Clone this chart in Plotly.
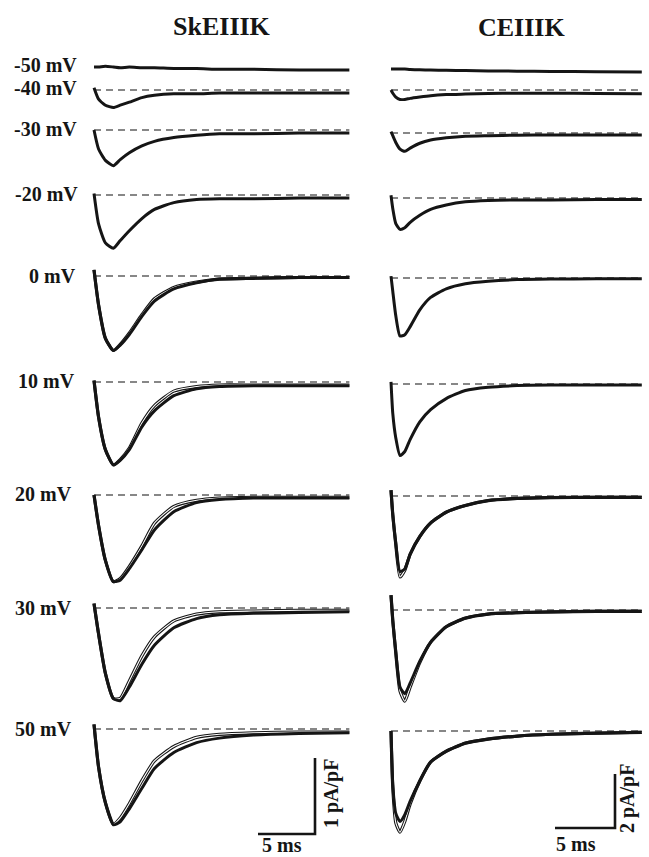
import plotly.graph_objects as go

# ---------------- data ----------------
ROW_LABELS = ["-50 mV", "-40 mV", "-30 mV", "-20 mV", "0 mV", "10 mV", "20 mV", "30 mV", "50 mV"]
COL_TITLES = ["SkEIIIK", "CEIIIK"]

# time samples (ms after the step onset)
T_SKE = [0, 0.4, 1.0, 1.7, 2.3, 3.1, 4.2, 5.3, 7.0, 9.0, 11.0, 14.0, 18.0, 22.4]
T_CE = [0, 0.15, 0.4, 0.75, 1.15, 1.6, 2.4, 3.3, 4.6, 6.2, 8.1, 10.5, 13.3, 17.1, 20.9]

# SkEIIIK current density (pA/pF), thick trace
SKE_M50 = [0.0, 0.0, 0.01, 0.0, -0.01, 0.0, -0.01, -0.01, -0.02, -0.02, -0.03, -0.03, -0.04, -0.04]
SKE_M40 = [0.03, -0.12, -0.20, -0.23, -0.20, -0.16, -0.10, -0.07, -0.05, -0.05, -0.04, -0.04, -0.04, -0.04]
SKE_M30 = [0.0, -0.25, -0.40, -0.47, -0.39, -0.30, -0.21, -0.15, -0.10, -0.07, -0.05, -0.05, -0.04, -0.04]
SKE_M20 = [0.02, -0.38, -0.63, -0.70, -0.60, -0.47, -0.31, -0.19, -0.10, -0.06, -0.05, -0.05, -0.04, -0.04]
SKE_P0 = [0.08, -0.38, -0.82, -0.98, -0.91, -0.77, -0.53, -0.33, -0.17, -0.09, -0.04, -0.03, -0.02, -0.02]
SKE_P10 = [0.02, -0.46, -0.89, -1.09, -1.03, -0.89, -0.59, -0.38, -0.18, -0.09, -0.06, -0.05, -0.05, -0.05]
SKE_P20 = [0.0, -0.40, -0.86, -1.14, -1.12, -0.97, -0.72, -0.46, -0.22, -0.10, -0.06, -0.04, -0.04, -0.04]
SKE_P30 = [0.06, -0.34, -0.86, -1.19, -1.22, -1.04, -0.74, -0.49, -0.26, -0.14, -0.09, -0.07, -0.06, -0.05]
SKE_P50 = [0.06, -0.50, -0.97, -1.26, -1.22, -1.05, -0.78, -0.52, -0.31, -0.18, -0.12, -0.08, -0.06, -0.05]

# SkEIIIK second (thin) trace
SKE_P0_B = [0.08, -0.38, -0.82, -0.98, -0.90, -0.75, -0.51, -0.30, -0.15, -0.08, -0.04, -0.03, -0.02, -0.02]
SKE_P10_B = [0.02, -0.46, -0.89, -1.09, -1.02, -0.87, -0.54, -0.31, -0.12, -0.06, -0.04, -0.04, -0.04, -0.04]
SKE_P20_B = [0.0, -0.40, -0.86, -1.14, -1.10, -0.94, -0.67, -0.37, -0.15, -0.07, -0.04, -0.03, -0.03, -0.03]
SKE_P30_B = [0.06, -0.34, -0.86, -1.19, -1.19, -0.96, -0.63, -0.38, -0.17, -0.08, -0.05, -0.04, -0.03, -0.03]
SKE_P50_B = [0.06, -0.50, -0.97, -1.25, -1.17, -0.98, -0.68, -0.42, -0.23, -0.11, -0.07, -0.05, -0.04, -0.04]

# CEIIIK current density (pA/pF), thick trace
CE_M50 = [0.0, 0.0, 0.0, 0.0, 0.0, -0.02, -0.03, -0.04, -0.05, -0.06, -0.07, -0.08, -0.09, -0.10, -0.11]
CE_M40 = [0.0, -0.12, -0.26, -0.35, -0.35, -0.31, -0.26, -0.21, -0.17, -0.15, -0.13, -0.12, -0.12, -0.13, -0.14]
CE_M30 = [0.05, -0.10, -0.35, -0.60, -0.68, -0.56, -0.38, -0.26, -0.18, -0.12, -0.10, -0.08, -0.07, -0.07, -0.07]
CE_M20 = [0.10, -0.40, -0.95, -1.16, -1.10, -0.90, -0.64, -0.42, -0.26, -0.14, -0.09, -0.07, -0.07, -0.06, -0.06]
CE_P0 = [0.07, -0.50, -1.40, -2.15, -2.10, -1.80, -1.18, -0.72, -0.40, -0.21, -0.12, -0.06, -0.04, -0.03, -0.03]
CE_P10 = [0.08, -1.10, -2.00, -2.65, -2.50, -2.05, -1.40, -0.95, -0.54, -0.24, -0.12, -0.06, -0.04, -0.04, -0.04]
CE_P20 = [0.22, -0.70, -1.75, -2.80, -2.70, -2.15, -1.50, -1.00, -0.60, -0.35, -0.17, -0.09, -0.06, -0.05, -0.05]
CE_P30 = [0.55, -0.40, -1.55, -2.85, -3.10, -2.70, -1.90, -1.20, -0.62, -0.30, -0.15, -0.10, -0.07, -0.05, -0.05]
CE_P50 = [0.0, -2.00, -3.05, -3.35, -3.10, -2.60, -1.85, -1.15, -0.75, -0.45, -0.30, -0.19, -0.12, -0.08, -0.05]

# CEIIIK second (thin) trace
CE_P20_B = [0.22, -0.70, -1.80, -3.00, -2.75, -2.15, -1.50, -1.00, -0.60, -0.35, -0.17, -0.09, -0.06, -0.05, -0.05]
CE_P30_B = [0.55, -0.40, -1.60, -3.00, -3.38, -2.85, -1.95, -1.20, -0.62, -0.30, -0.15, -0.10, -0.07, -0.05, -0.05]
CE_P50_B = [0.0, -2.10, -3.40, -3.75, -3.35, -2.70, -1.85, -1.15, -0.75, -0.45, -0.30, -0.19, -0.12, -0.08, -0.05]

SKE_THICK = [SKE_M50, SKE_M40, SKE_M30, SKE_M20, SKE_P0, SKE_P10, SKE_P20, SKE_P30, SKE_P50]
SKE_THIN = [None, None, None, None, SKE_P0_B, SKE_P10_B, SKE_P20_B, SKE_P30_B, SKE_P50_B]
CE_THICK = [CE_M50, CE_M40, CE_M30, CE_M20, CE_P0, CE_P10, CE_P20, CE_P30, CE_P50]
CE_THIN = [None, None, None, None, None, None, CE_P20_B, CE_P30_B, CE_P50_B]

# scale bars
SCALE_T = 5          # ms
SCALE_SKE = 1        # pA/pF
SCALE_CE = 2         # pA/pF

# ---------------- layout geometry (pixels) ----------------
W, H = 649, 857
SKE_PX_MS, SKE_PX_UNIT, SKE_X0 = 11.4, 76.0, 94.0
CE_PX_MS, CE_PX_UNIT, CE_X0 = 12.0, 27.0, 391.0
SPLIT = 360.0
SKE_BASE_PX = [67, 90, 130, 195, 276, 382, 495, 608, 729]
CE_BASE_PX = [69, 90, 133, 198, 278, 384, 496, 610, 731]
LABEL_X = [12, 12, 12, 13, 27, 16, 13, 13, 13]
LABEL_Y = [65, 88, 129, 194, 276, 381, 494, 608, 729]

FONT = "Liberation Serif, Times New Roman, serif"
INK = "#151515"
SMOOTH = 0.55

fig = go.Figure()


def add_column(xa, ya, T, thick, thin, base_px, px_unit):
    for i in range(len(thick)):
        off = -base_px[i] / px_unit
        if i > 0:
            fig.add_trace(go.Scatter(
                x=[T[0], T[-1]], y=[off, off], mode="lines", xaxis=xa, yaxis=ya,
                line=dict(color="#111111", width=1.2, dash="7px,5px"), hoverinfo="skip"))
        if thin[i] is not None:
            ys = [v + off for v in thin[i]]
            fig.add_trace(go.Scatter(
                x=T, y=ys, mode="lines", xaxis=xa, yaxis=ya,
                line=dict(color=INK, width=3.2, shape="spline", smoothing=SMOOTH), hoverinfo="skip"))
            fig.add_trace(go.Scatter(
                x=T, y=ys, mode="lines", xaxis=xa, yaxis=ya,
                line=dict(color="white", width=1.1, shape="spline", smoothing=SMOOTH), hoverinfo="skip"))
        fig.add_trace(go.Scatter(
            x=T, y=[v + off for v in thick[i]], mode="lines", xaxis=xa, yaxis=ya,
            line=dict(color=INK, width=3.0, shape="spline", smoothing=SMOOTH), hoverinfo="skip"))


add_column("x", "y", T_SKE, SKE_THICK, SKE_THIN, SKE_BASE_PX, SKE_PX_UNIT)
add_column("x2", "y2", T_CE, CE_THICK, CE_THIN, CE_BASE_PX, CE_PX_UNIT)

# scale bars
sb_t0 = (258 - SKE_X0) / SKE_PX_MS
sb_y0 = -834 / SKE_PX_UNIT
fig.add_trace(go.Scatter(
    x=[sb_t0, sb_t0 + SCALE_T, sb_t0 + SCALE_T], y=[sb_y0, sb_y0, sb_y0 + SCALE_SKE],
    mode="lines", xaxis="x", yaxis="y", line=dict(color=INK, width=2.6), hoverinfo="skip"))
cb_t0 = (555 - CE_X0) / CE_PX_MS
cb_y0 = -828 / CE_PX_UNIT
fig.add_trace(go.Scatter(
    x=[cb_t0, cb_t0 + SCALE_T, cb_t0 + SCALE_T], y=[cb_y0, cb_y0, cb_y0 + SCALE_CE],
    mode="lines", xaxis="x2", yaxis="y2", line=dict(color=INK, width=2.6), hoverinfo="skip"))

ann = []


def px(x, y):
    return x / W, 1 - y / H


for txt, cx, cy in [(COL_TITLES[0], 222, 26), (COL_TITLES[1], 521, 27)]:
    ax_, ay_ = px(cx, cy)
    ann.append(dict(text="<b>%s</b>" % txt, x=ax_, y=ay_, xref="paper", yref="paper",
                    xanchor="center", yanchor="middle", showarrow=False,
                    font=dict(family=FONT, size=26, color=INK)))
for lab, lx, ly in zip(ROW_LABELS, LABEL_X, LABEL_Y):
    ax_, ay_ = px(lx, ly)
    ann.append(dict(text="<b>%s</b>" % lab, x=ax_, y=ay_, xref="paper", yref="paper",
                    xanchor="left", yanchor="middle", showarrow=False,
                    font=dict(family=FONT, size=20, color=INK)))
for txt, cx, cy, ang in [("1 pA/pF", 331, 794, -90), ("5 ms", 282, 845, 0),
                         ("2 pA/pF", 627, 799, -90), ("5 ms", 576, 844, 0)]:
    ax_, ay_ = px(cx, cy)
    ann.append(dict(text="<b>%s</b>" % txt, x=ax_, y=ay_, xref="paper", yref="paper",
                    xanchor="center", yanchor="middle", showarrow=False, textangle=ang,
                    font=dict(family=FONT, size=20, color=INK)))

axis_off = dict(visible=False, showgrid=False, zeroline=False, fixedrange=True)
fig.update_layout(
    width=W, height=H, margin=dict(l=0, r=0, t=0, b=0),
    paper_bgcolor="white", plot_bgcolor="white", showlegend=False,
    xaxis=dict(domain=[0, SPLIT / W], range=[-SKE_X0 / SKE_PX_MS, (SPLIT - SKE_X0) / SKE_PX_MS], **axis_off),
    yaxis=dict(domain=[0, 1], range=[-H / SKE_PX_UNIT, 0], **axis_off),
    xaxis2=dict(domain=[SPLIT / W, 1], anchor="y2",
                range=[(SPLIT - CE_X0) / CE_PX_MS, (W - CE_X0) / CE_PX_MS], **axis_off),
    yaxis2=dict(domain=[0, 1], anchor="x2", range=[-H / CE_PX_UNIT, 0], **axis_off),
    annotations=ann,
)

fig.write_html("out.html", config={"displayModeBar": False},
               post_script="document.body.style.margin='0';document.body.style.overflow='hidden';")
